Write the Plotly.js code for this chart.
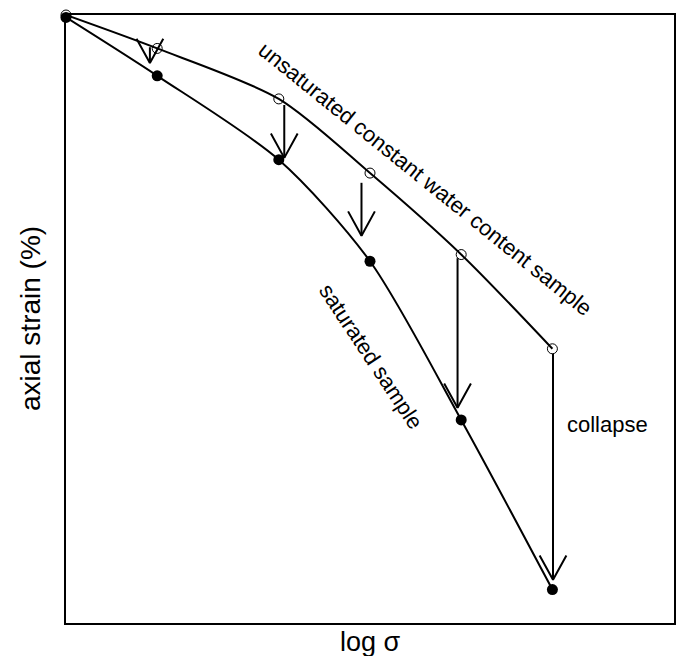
<!DOCTYPE html>
<html>
<head>
<meta charset="utf-8">
<script src="https://cdn.plot.ly/plotly-3.0.1.min.js"></script>
<style>html,body{margin:0;padding:0;background:#fff;}#chart{width:679px;height:656px;}</style>
</head>
<body>
<div id="chart"></div>
<script>
// log sigma positions of the loading steps (arbitrary units)
const logSigma = [0, 1.5, 3.5, 5.0, 6.5, 8.0];
// axial strain, unsaturated constant water content sample (open circles)
const strainUnsat = [0, 0.55, 1.38, 2.60, 3.94, 5.49];
// axial strain, saturated sample (filled circles)
const strainSat = [0.04, 1.0, 2.38, 4.05, 6.66, 9.45];
// collapse arrows (wetting): x position, start strain, end strain
const arrowX = [1.38, 3.59, 4.86, 6.44, 8.01];
const arrowFrom = [0.53, 1.48, 2.76, 4.00, 5.57];
const arrowTo = [0.79, 2.35, 3.63, 6.46, 9.29];
// labels
const labelText = ['unsaturated constant water content sample', 'saturated sample', 'collapse'];
const labelX = [5.92, 5.02, 8.91];
const labelY = [2.70, 5.61, 6.74];
const labelAngle = [38.9, 56.5, 0];
// axis titles
const xTitle = 'log σ';
const yTitle = 'axial strain (%)';

const FONT = 'Liberation Sans, Arial, Helvetica, sans-serif';
const headDx = 0.22, headDy = 0.40; // arrowhead wing size in data units

const shaftX = [], shaftY = [], headX = [], headY = [];
arrowX.forEach((x, i) => {
  shaftX.push(x, x, null);
  shaftY.push(arrowFrom[i], arrowTo[i], null);
  headX.push(x - headDx, x, x + headDx, null);
  headY.push(arrowTo[i] - headDy, arrowTo[i], arrowTo[i] - headDy, null);
});

const traces = [
  {x: logSigma, y: strainUnsat, type: 'scatter', mode: 'lines',
   line: {color: '#000', width: 2, shape: 'spline', smoothing: 0.8}, hoverinfo: 'skip', cliponaxis: false},
  {x: logSigma, y: strainSat, type: 'scatter', mode: 'lines',
   line: {color: '#000', width: 2, shape: 'spline', smoothing: 0.8}, hoverinfo: 'skip', cliponaxis: false},
  {x: shaftX, y: shaftY, type: 'scatter', mode: 'lines',
   line: {color: '#000', width: 2}, hoverinfo: 'skip', cliponaxis: false},
  {x: headX, y: headY, type: 'scatter', mode: 'lines',
   line: {color: '#000', width: 2}, hoverinfo: 'skip', cliponaxis: false},
  {x: logSigma, y: strainUnsat, type: 'scatter', mode: 'markers',
   marker: {symbol: 'circle-open', size: 10, color: '#000', line: {width: 1, color: '#000'}}, cliponaxis: false},
  {x: logSigma, y: strainSat, type: 'scatter', mode: 'markers',
   marker: {symbol: 'circle', size: 11, color: '#000'}, cliponaxis: false}
];

const annotations = labelText.map((t, i) => ({
  text: t, x: labelX[i], y: labelY[i], xref: 'x', yref: 'y',
  showarrow: false, textangle: labelAngle[i], xanchor: 'center', yanchor: 'middle',
  font: {family: FONT, size: 22, color: '#000'}
}));
annotations.push({
  text: xTitle, xref: 'paper', yref: 'paper', x: 0.5, y: 0, xanchor: 'center', yanchor: 'middle',
  yshift: -19, showarrow: false, font: {family: FONT, size: 27, color: '#000'}
});
annotations.push({
  text: yTitle, xref: 'paper', yref: 'paper', x: 0, y: 0.5, xanchor: 'center', yanchor: 'middle',
  xshift: -36, textangle: -90, showarrow: false, font: {family: FONT, size: 28, color: '#000'}
});

const layout = {
  width: 679, height: 656,
  margin: {l: 66, r: 5, t: 15, b: 33},
  paper_bgcolor: '#fff', plot_bgcolor: '#fff',
  showlegend: false,
  xaxis: {range: [0, 10], showticklabels: false, ticks: '', showgrid: false, zeroline: false,
    showline: true, mirror: true, linecolor: '#000', linewidth: 2},
  yaxis: {range: [10, 0], showticklabels: false, ticks: '', showgrid: false, zeroline: false,
    showline: true, mirror: true, linecolor: '#000', linewidth: 2},
  annotations: annotations
};

Plotly.newPlot('chart', traces, layout, {staticPlot: true, displayModeBar: false});
</script>
</body>
</html>
